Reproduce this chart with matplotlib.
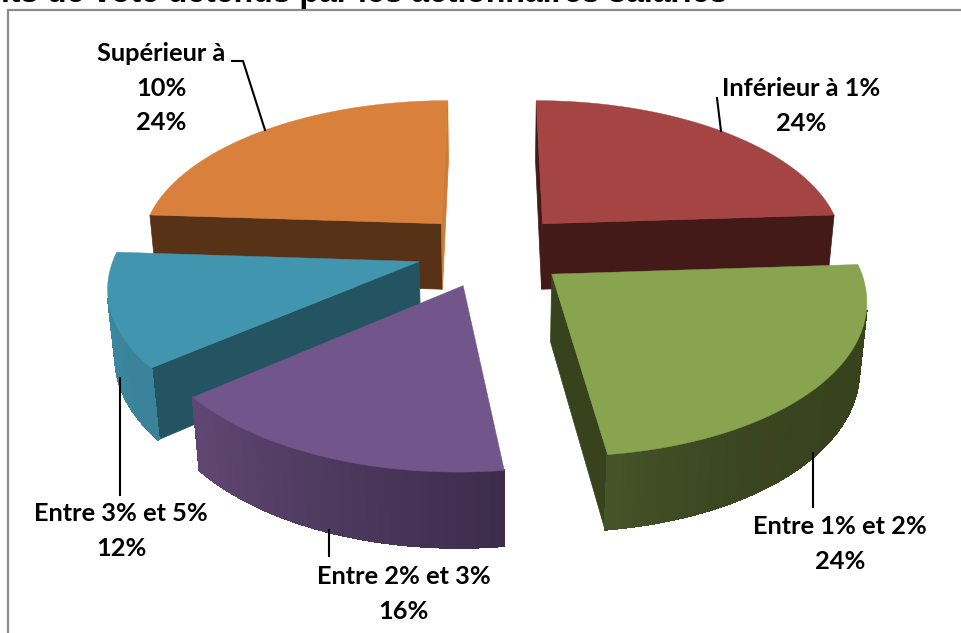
import numpy as np
import matplotlib
matplotlib.use('Agg')
import matplotlib.pyplot as plt
from matplotlib.colors import to_rgb

# Data
categories = ['Inférieur à 1%', 'Entre 1% et 2%', 'Entre 2% et 3%', 'Entre 3% et 5%', 'Supérieur à\n10%']
values = [24, 24, 16, 12, 24]
percent_labels = ['24%', '24%', '16%', '12%', '24%']
title = 'Droits de vote détenus par les actionnaires salariés'

# Slice styles: top, first radial wall, last radial wall, outer wall start/end colour
top_colors = ['#A54543', '#89A44E', '#71558B', '#4295AE', '#D8803C']
first_wall = ['#431A18', '#38431E', '#5A4270', '#245461', '#573217']
last_wall = ['#431A18', '#38431E', '#5A4270', '#245461', '#D07A38']
outer_start = ['#431A18', '#38431E', '#3C2C4B', '#3A8299', '#573217']
outer_end = ['#431A18', '#465429', '#604773', '#3C8AA3', '#573217']
outer_power = [1, 5, 1, 1, 1]

# Projection of the tilted pie (pixels)
CX, CY = 492, 250
SCALE_X, SCALE_Y = 303, 148
PERSP = 0.145
THICK = 68
SHRINK = 0.02
EXPLODE = 0.25


def project(x, y, z=0.0):
    w = 1 + PERSP * y + SHRINK * z
    return CX + SCALE_X * x / w, CY - (SCALE_Y * y - THICK * z) / w


def signed_area(xs, ys):
    return 0.5 * np.sum(xs * np.roll(ys, -1) - np.roll(xs, -1) * ys)


fig = plt.figure(figsize=(9.61, 6.33), dpi=100)
ax = fig.add_axes([0, 0, 1, 1])
ax.set_xlim(0, 961)
ax.set_ylim(633, 0)
ax.axis('off')

angles = np.cumsum([0] + values) / sum(values) * 2 * np.pi

# Back slices first so the front ones overlap them
draw_order = [0, 4, 3, 2, 1]
for n, i in enumerate(draw_order):
    a0, a1 = angles[i], angles[i + 1]
    mid = (a0 + a1) / 2
    ox, oy = EXPLODE * np.sin(mid), EXPLODE * np.cos(mid)
    t = np.linspace(a0, a1, 120)
    x = np.concatenate([[ox], ox + np.sin(t), [ox]])
    y = np.concatenate([[oy], oy + np.cos(t), [oy]])
    z = 2 + n * 3

    # Radial walls, only the ones turned towards the viewer
    for j, color in [(0, first_wall[i]), (len(t), last_wall[i])]:
        qx = np.array([x[j], x[j + 1], x[j + 1], x[j]])
        qy = np.array([y[j], y[j + 1], y[j + 1], y[j]])
        px, py = project(qx, qy, np.array([0, 0, 1, 1]))
        if signed_area(px, py) < 0:
            ax.fill(px, py, color=color, lw=0.5, zorder=z)

    # Outer wall, one quad per arc step for the shading
    c0, c1 = np.array(to_rgb(outer_start[i])), np.array(to_rgb(outer_end[i]))
    for k in range(len(t) - 1):
        qx = np.array([np.sin(t[k]), np.sin(t[k + 1]), np.sin(t[k + 1]), np.sin(t[k])]) + ox
        qy = np.array([np.cos(t[k]), np.cos(t[k + 1]), np.cos(t[k + 1]), np.cos(t[k])]) + oy
        px, py = project(qx, qy, np.array([0, 0, 1, 1]))
        if signed_area(px, py) < 0:
            f = (k / (len(t) - 2)) ** outer_power[i]
            # no antialiasing here, the seams between quads show up as stripes otherwise
            ax.fill(px, py, color=c0 + (c1 - c0) * f, lw=1.0, antialiased=False, zorder=z)

    # Top face
    px, py = project(x, y)
    ax.fill(px, py, color=top_colors[i], lw=0.3, zorder=z + 1)

# Frame left over from the cropped slide
ax.plot([8, 8, 961], [633, 10, 10], color='#8C8C8C', lw=1.6, zorder=1, solid_joinstyle='miter')

# Leader lines
leaders = [
    ([717, 721], [98, 131]),
    ([813, 813], [453, 507]),
    ([329, 329], [530, 556]),
    ([120, 120], [378, 495]),
    ([232, 243, 265], [61, 61, 130]),
]
for lx, ly in leaders:
    ax.plot(lx, ly, color='black', lw=1.5, zorder=30)

# Labels
label_pos = [(801, 106), (840, 544), (404, 594), (121, 531), (161, 88)]
for cat, pct, (tx, ty) in zip(categories, percent_labels, label_pos):
    ax.text(tx, ty, cat + '\n' + pct, ha='center', va='center', family='Lato',
            weight='bold', fontsize=18.3, linespacing=1.62, color='black', zorder=31)

ax.text(727, 2, title, ha='right', va='baseline', family='Liberation Sans',
        weight='bold', fontsize=23, color='black', zorder=31)

fig.savefig('out.png', dpi=100)
